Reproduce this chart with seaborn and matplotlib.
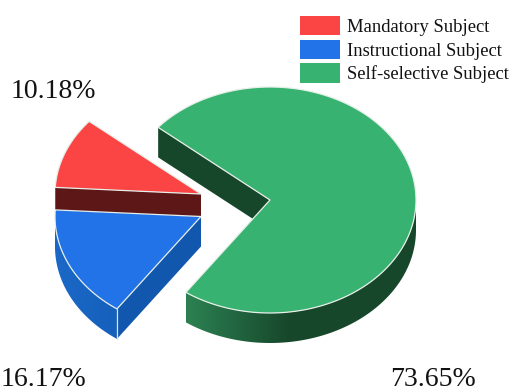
import numpy as np
import matplotlib
matplotlib.use("Agg")
import matplotlib.pyplot as plt
from matplotlib.patches import Patch, Polygon
from matplotlib.colors import LinearSegmentedColormap
import seaborn as sns

categories = ["Mandatory Subject", "Instructional Subject", "Self-selective Subject"]
shares = [10.18, 16.17, 73.65]
top_colors = ["#fb4545", "#2272e8", "#38b270"]
share_labels = ["10.18%", "16.17%", "73.65%"]

sns.set_theme(style="white")
plt.rcParams["font.family"] = ["Liberation Serif", "DejaVu Serif"]
palette = sns.color_palette(top_colors)

# Projection of the disc, in pixel units of the canvas
RX, RY, DEPTH = 146.0, 113.0, 30.0
START_ANGLE = 140.0  # the green wedge starts here and runs clockwise
apexes = {"red": (201.0, 194.0), "blue": (201.0, 216.5), "green": (270.0, 200.0)}

fig = plt.figure(figsize=(5.10, 3.87), dpi=100)
ax = fig.add_axes([0, 0, 1, 1])
ax.axis("off")
sns.despine(ax=ax, left=True, bottom=True)


def rim(apex, t_deg, drop=0.0):
    t = np.radians(t_deg)
    return np.column_stack([apex[0] + RX * np.cos(t), apex[1] - RY * np.sin(t) + drop])


def top_face(apex, t_from, t_to, color, z):
    ts = np.linspace(t_from, t_to, 160)
    pts = np.vstack([[apex], rim(apex, ts)])
    ax.add_patch(Polygon(pts, closed=True, facecolor=color, edgecolor="#e6efe9",
                         lw=0.9, joinstyle="miter", zorder=z))


def flat_wall(apex, t_deg, color, z):
    edge = rim(apex, np.array([t_deg]))[0]
    pts = [apex, edge, edge + [0, DEPTH], (apex[0], apex[1] + DEPTH)]
    ax.add_patch(Polygon(pts, closed=True, facecolor=color, edgecolor="none", zorder=z))


def curved_wall(apex, t_from, t_to, stops, z):
    # Outer rim: a horizontal colour ramp clipped to the rim's outline
    ts = np.linspace(t_from, t_to, 160)
    pts = np.vstack([rim(apex, ts), rim(apex, ts[::-1], DEPTH)])
    shape = Polygon(pts, closed=True, facecolor="none", edgecolor="none", zorder=z)
    ax.add_patch(shape)
    cmap = LinearSegmentedColormap.from_list("rim", stops)
    x0, x1 = pts[:, 0].min(), pts[:, 0].max()
    y0, y1 = pts[:, 1].min(), pts[:, 1].max()
    im = ax.imshow(np.linspace(0, 1, 256)[None, :], cmap=cmap, aspect="auto",
                   extent=(x0, x1, y1, y0), zorder=z, interpolation="bilinear")
    im.set_clip_path(shape)


# Wedge angles follow from the shares, clockwise from the start angle
sweeps = np.array(shares) / sum(shares) * 360.0
green_end = START_ANGLE - sweeps[2] + 360.0
blue_end = green_end - sweeps[1]
red_end = blue_end - sweeps[0]

# Red slice
flat_wall(apexes["red"], blue_end, "#5e1717", 1)
top_face(apexes["red"], blue_end, red_end, palette[0], 2)

# Blue slice
curved_wall(apexes["blue"], 180.0, green_end, ["#1b68c8", "#1560bb"], 3)
flat_wall(apexes["blue"], green_end, "#1257ae", 3)
top_face(apexes["blue"], blue_end, green_end, palette[1], 4)
blue_tip = rim(apexes["blue"], np.array([green_end]))[0]
ax.plot([blue_tip[0]] * 2, [blue_tip[1], blue_tip[1] + DEPTH], color="#d7e3f2", lw=0.9, zorder=5)

# Green slice
flat_wall(apexes["green"], START_ANGLE, "#17472b", 1)
curved_wall(apexes["green"], green_end, 360.0,
            [(0.0, "#2c8152"), (0.45, "#17472b"), (1.0, "#17472b")], 1)
top_face(apexes["green"], START_ANGLE, START_ANGLE - sweeps[2], palette[2], 2)

ax.set_xlim(0, 510)
ax.set_ylim(387, 0)

# Percentage labels, placed by their baselines
label_xy = [(53.5, 98), (43, 386), (433, 386)]
for text, (x, y) in zip(share_labels, label_xy):
    ax.text(x, y, text, fontsize=20, ha="center", va="baseline", color="#111111", zorder=6)

handles = [Patch(facecolor=c, edgecolor="none") for c in palette]
ax.legend(handles, categories, loc="upper left", bbox_to_anchor=(300 / 510, 1 - 16 / 387),
          frameon=False, fontsize=13.4, handlelength=2.15, handleheight=1.22,
          handletextpad=0.35, labelspacing=0.2, borderpad=0, borderaxespad=0,
          labelcolor="#111111")

fig.savefig("out.png", dpi=100)
